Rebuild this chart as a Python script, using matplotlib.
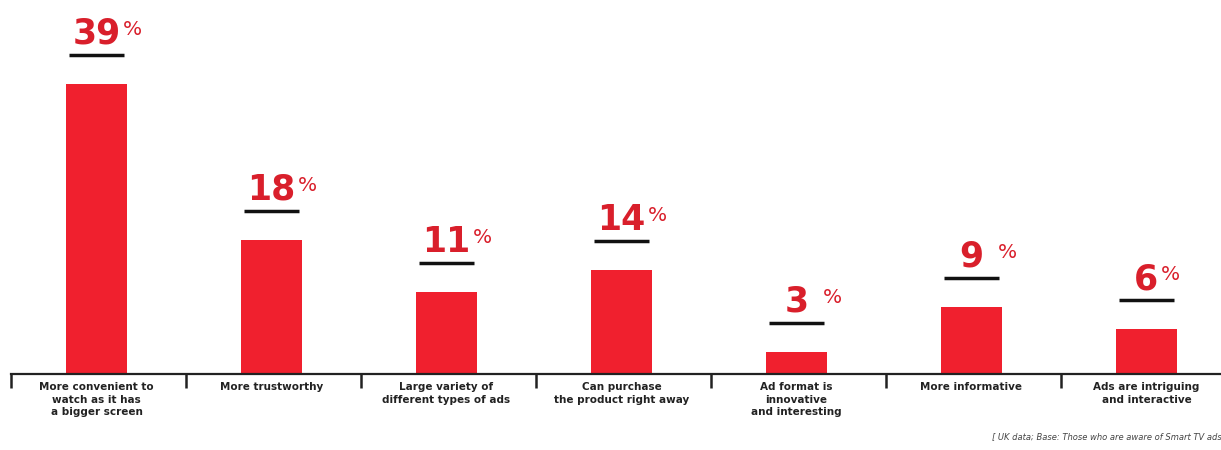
import numpy as np
import matplotlib
matplotlib.use("Agg")
import matplotlib.pyplot as plt


# -------------------------
# Data
# -------------------------

categories = [
    "More convenient to\nwatch as it has\na bigger screen",
    "More trustworthy",
    "Large variety of\ndifferent types of ads",
    "Can purchase\nthe product right away",
    "Ad format is\ninnovative\nand interesting",
    "More informative",
    "Ads are intriguing\nand interactive",
]
values = [39, 18, 11, 14, 3, 9, 6]
value_labels = ["39", "18", "11", "14", "3", "9", "6"]
footnote = "[ UK data; Base: Those who are aware of Smart TV ads"


# -------------------------
# Style
# -------------------------

RED = "#F0202E"
TEXT_RED = "#D91F2B"
DARK = "#222222"

x = np.arange(len(categories))

fig = plt.figure(figsize=(12.21, 4.5), dpi=100)
ax = fig.add_axes([0, 0, 1, 1])

# pixel-ish layout: 175 px per category, 7.44 px per percent
ax.set_xlim(-96.5 / 175, (1221 - 96.5) / 175)
ax.set_ylim(-76 / 7.44, 374 / 7.44)

ax.bar(x, values, width=0.345, color=RED, zorder=2)

# black line + number above each bar
for xi, v, lab in zip(x, values, value_labels):
    line_y = v + 3.9
    ax.hlines(line_y, xi - 0.155, xi + 0.155, color="#111111", lw=2.5)
    ax.annotate(lab, xy=(xi, line_y), xytext=(0, 8), textcoords="offset points",
                ha="center", va="baseline", fontsize=25, fontweight="bold",
                color=TEXT_RED)
    gap = 10 if lab == "6" else 18.7
    ax.annotate("%", xy=(xi, line_y), xytext=(gap, 14.5), textcoords="offset points",
                ha="left", va="baseline", fontsize=14.5, color=TEXT_RED)

# axis
for s in ["top", "right", "left"]:
    ax.spines[s].set_visible(False)
ax.spines["bottom"].set_position(("data", 0))
ax.spines["bottom"].set_color(DARK)
ax.spines["bottom"].set_linewidth(1.6)
ax.spines["bottom"].set_bounds(-0.49, 7)

ax.set_yticks([])
ax.set_xticks(x - 0.49)
ax.set_xticklabels([])
ax.tick_params(axis="x", which="major", direction="out", length=10,
               width=1.8, color=DARK)
ax.set_xticks(x, minor=True)
ax.set_xticklabels(categories, minor=True, fontsize=7.5, fontweight="bold",
                   color=DARK, linespacing=1.3)
ax.tick_params(axis="x", which="minor", length=0, pad=6)

fig.text(1.001, 13 / 450, footnote, ha="right", va="center", fontsize=6,
         style="italic", color="#444444")

plt.savefig("out.png", dpi=100)
plt.close()
